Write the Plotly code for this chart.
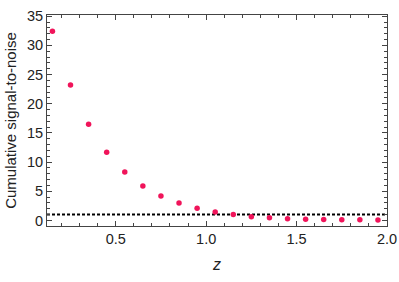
import plotly.graph_objects as go

z = [0.15, 0.25, 0.35, 0.45, 0.55, 0.65, 0.75, 0.85, 0.95, 1.05,
     1.15, 1.25, 1.35, 1.45, 1.55, 1.65, 1.75, 1.85, 1.95]
snr = [32.4, 23.2, 16.5, 11.7, 8.3, 5.9, 4.2, 3.0, 2.1, 1.45,
       1.0, 0.65, 0.45, 0.28, 0.2, 0.15, 0.12, 0.1, 0.08]
threshold_x = [0.12, 2.0]
threshold_y = [1.0, 1.0]

font = "Liberation Sans, Arial, sans-serif"

fig = go.Figure()
fig.add_trace(go.Scatter(x=threshold_x, y=threshold_y, mode="lines",
                         line=dict(color="black", width=2, dash="3px,2px"),
                         hoverinfo="skip", showlegend=False))
fig.add_trace(go.Scatter(x=z, y=snr, mode="markers",
                         marker=dict(color="#F0145A", size=5.5),
                         showlegend=False))

axis_common = dict(showline=True, linecolor="#444", linewidth=1, mirror="allticks",
                   ticks="inside", ticklen=5, tickwidth=1, tickcolor="#444",
                   showgrid=False, zeroline=False, automargin=False,
                   ticklabeloverflow="allow",
                   tickfont=dict(family=font, size=14.5, color="#222"))

fig.update_xaxes(range=[0.12, 2.0], tickvals=[0.5, 1.0, 1.5, 2.0],
                 ticktext=["0.5", "1.0", "1.5", "2.0"],
                 minor=dict(dtick=0.1, tick0=0, ticks="inside", ticklen=3, tickcolor="#444"),
                 title=dict(text="<i>z</i>", font=dict(family=font, size=16, color="#222"), standoff=12),
                 **axis_common)
fig.update_yaxes(range=[-0.95, 35.2], tickvals=[0, 5, 10, 15, 20, 25, 30, 35],
                 minor=dict(dtick=1, tick0=0, ticks="inside", ticklen=3, tickcolor="#444"),
                 title=dict(text="Cumulative signal-to-noise", font=dict(family=font, size=15, color="#222"), standoff=6),
                 **axis_common)

fig.update_layout(width=399, height=282, margin=dict(l=47, r=12, t=15, b=56),
                  plot_bgcolor="white", paper_bgcolor="white")

fig.write_html("out.html", config={"displayModeBar": False},
               post_script="document.body.style.margin='0';document.body.style.overflow='hidden';")
